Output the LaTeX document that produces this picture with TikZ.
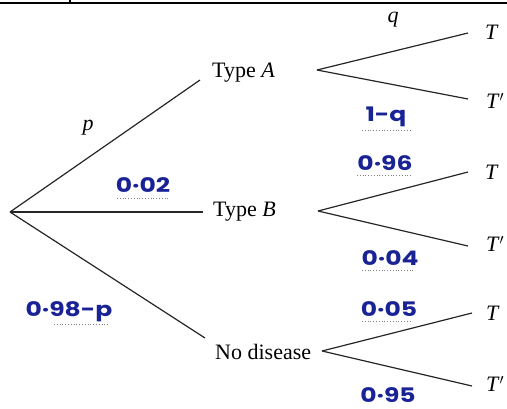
\documentclass[tikz,border=0pt]{standalone}
\usepackage{fontspec}
\setmainfont{Liberation Serif}
\newfontfamily\handfont{Poppins}
\definecolor{inkblue}{RGB}{25,35,150}
\begin{document}
\begin{tikzpicture}[x=1pt,y=-1pt,
  branch/.style={line width=1.2pt, black!85},
  lbl/.style={font=\fontsize{22}{24}\selectfont, inner sep=0pt},
  hand/.style={font=\handfont\bfseries\fontsize{20}{22}\selectfont, text=inkblue, inner sep=1pt, xscale=1.25},
  uline/.style={gray, dotted, line width=0.8pt}]
\useasboundingbox (0,0) rectangle (507,408);
\draw[line width=1.6pt] (0,3) -- (507,3);
\draw[line width=1.2pt] (70,0) -- (70,3);
\coordinate (root) at (10,212);
\node[lbl, anchor=west] (A) at (212,73) {Type \textit{A}};
\node[lbl, anchor=west] (B) at (213,212) {Type \textit{B}};
\node[lbl, anchor=west] (N) at (215,352) {No disease};
\draw[branch] (root) -- (200,80);
\draw[branch] (root) -- (203,212);
\draw[branch] (root) -- (205,338);
\coordinate (a0) at (317,70); \coordinate (b0) at (318,211); \coordinate (n0) at (322,351);
\node[lbl] (AT) at (492,32) {\textit{T}};
\node[lbl] (ATp) at (495,101) {\textit{T}$'$};
\node[lbl] (BT) at (492,172) {\textit{T}};
\node[lbl] (BTp) at (495,244) {\textit{T}$'$};
\node[lbl] (NT) at (493,313) {\textit{T}};
\node[lbl] (NTp) at (495,384) {\textit{T}$'$};
\draw[branch] (a0) -- (468,33); \draw[branch] (a0) -- (468,99);
\draw[branch] (b0) -- (468,172); \draw[branch] (b0) -- (468,246);
\draw[branch] (n0) -- (472,313); \draw[branch] (n0) -- (472,386);
\node[lbl] (p) at (88,128) {\textit{p}};
\node[lbl] (q) at (393,20) {\textit{q}};
\node[hand] (l1) at (143,185) {0·02};
\draw[uline] (117,198) -- (170,198);
\node[hand] (l2) at (69,312) {0·98-p};
\draw[uline] (54,324) -- (110,324);
\node[hand] (l3) at (386,117) {1-q};
\draw[uline] (362,130) -- (412,130);
\node[hand] (l4) at (385,163) {0·96};
\draw[uline] (357,175) -- (412,175);
\node[hand] (l5) at (390,258) {0·04};
\draw[uline] (362,270) -- (414,270);
\node[hand] (l6) at (389,309) {0·05};
\draw[uline] (362,321) -- (412,321);
\node[hand] (l7) at (388,395) {0·95};
\end{tikzpicture}
\end{document}
